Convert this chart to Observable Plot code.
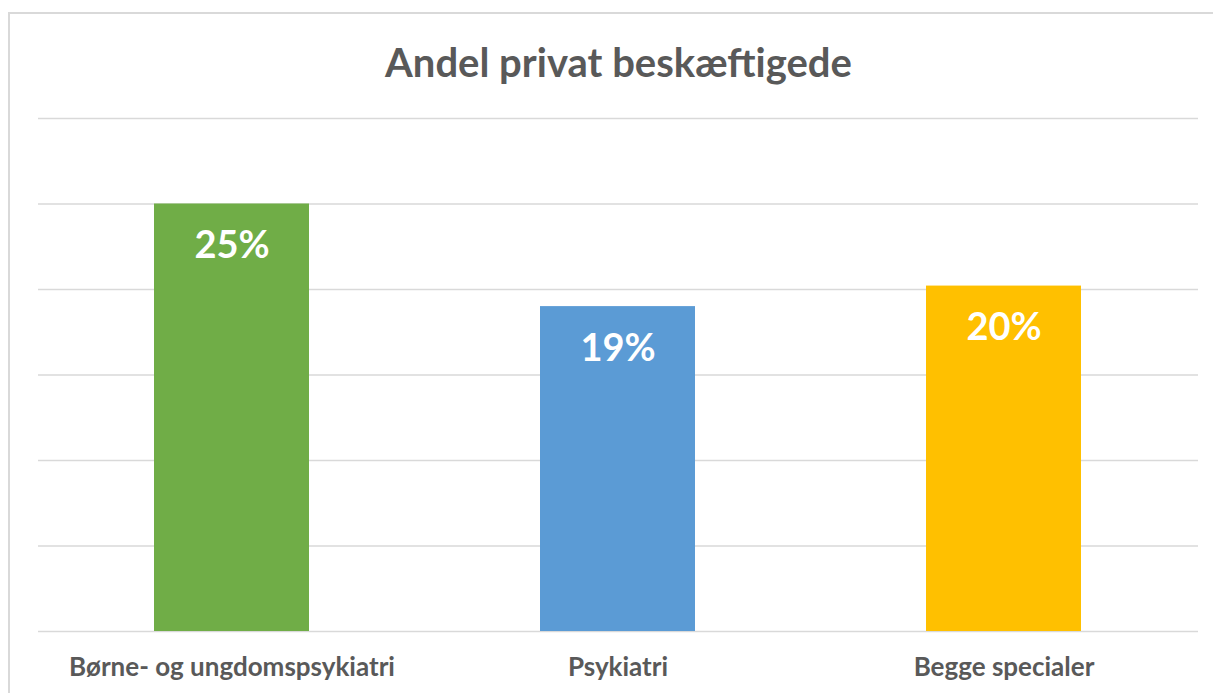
<!DOCTYPE html>
<html>
<head>
<meta charset="utf-8">
<script src="https://cdn.jsdelivr.net/npm/d3@7"></script>
<script src="https://cdn.jsdelivr.net/npm/@observablehq/plot@0.6"></script>
<style>
  html, body { margin: 0; padding: 0; background: #fff; overflow: hidden; }
  #wrap { position: relative; width: 1213px; height: 693px; }
  #frame { position: absolute; left: 8px; top: 12px; width: 1300px; height: 800px;
           border-top: 2px solid #d9d9d9; border-left: 2px solid #d9d9d9; box-sizing: border-box; }
  #title { position: absolute; left: 0; width: 1237px; top: 37px; text-align: center;
           font-family: Lato, sans-serif; font-weight: bold; font-size: 40px; color: #595959; line-height: 50px; }
  #chart { position: absolute; left: 0; top: 0; }
</style>
</head>
<body>
<div id="wrap">
  <div id="frame"></div>
  <div id="chart"></div>
  <div id="title">Andel privat beskæftigede</div>
</div>
<script>
const categories = ["Børne- og ungdomspsykiatri", "Psykiatri", "Begge specialer"];
const values = [0.25, 0.19, 0.202];
const colors = ["#70AD47", "#5B9BD5", "#FFC000"];
const yTicks = [0, 0.05, 0.10, 0.15, 0.20, 0.25, 0.30];

const data = categories.map((c, i) => ({category: c, value: values[i], color: colors[i]}));
const fmt = d3.format(".0%");

const chart = Plot.plot({
  width: 1213,
  height: 693,
  marginLeft: 38,
  marginRight: 15,
  marginTop: 118,
  marginBottom: 62,
  style: {fontFamily: "Lato, sans-serif", background: "transparent"},
  x: {domain: categories, paddingInner: 0.598, paddingOuter: 0.299, label: null},
  y: {domain: [0, 0.30], axis: null},
  marks: [
    Plot.ruleY(yTicks, {stroke: "#d9d9d9", strokeWidth: 1.5}),
    Plot.barY(data, {x: "category", y: "value", fill: "color"}),
    Plot.text(data, {x: "category", y: "value", text: d => fmt(d.value), dy: 42,
      fill: "white", fontSize: 38, fontWeight: "bold"}),
    Plot.axisX({tickSize: 0, tickPadding: 26, fontSize: 26, fontWeight: "bold", fill: "#595959", label: null})
  ]
});
document.getElementById("chart").appendChild(chart);
</script>
</body>
</html>
